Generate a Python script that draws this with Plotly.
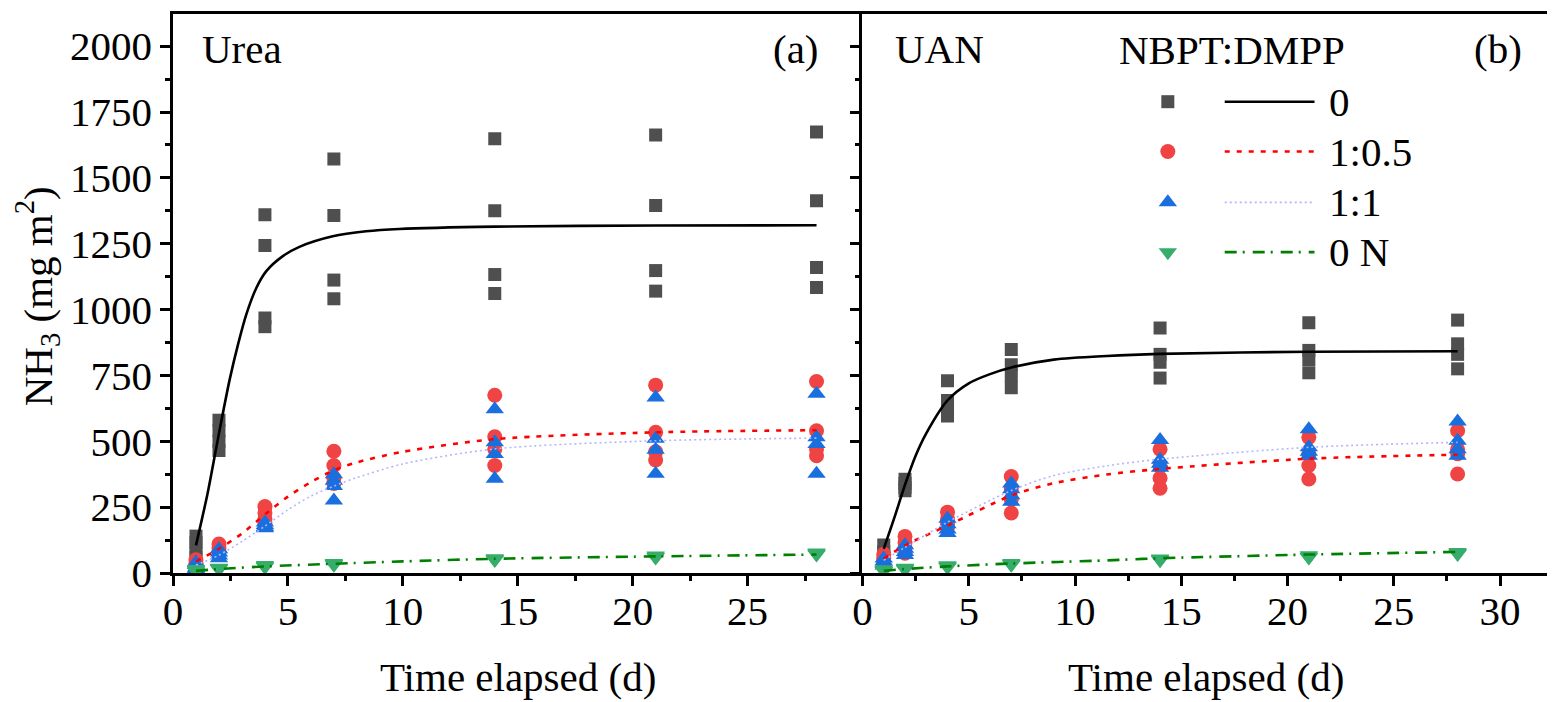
import plotly.graph_objects as go

FONT = "Liberation Serif"
FS = 41

days = [1, 2, 4, 7, 14, 21, 28]

# ---- Panel (a) Urea: replicate measurements (mg m-2) ----
urea_0 = [[140, 115, 90, 60], [580, 540, 500, 465], [1360, 1243, 968, 935],
          [1572, 1357, 1112, 1041], [1648, 1375, 1133, 1061],
          [1663, 1395, 1148, 1070], [1674, 1413, 1160, 1084]]
urea_05 = [[50, 38, 28, 20], [110, 95, 82, 72], [252, 228, 205, 188],
           [462, 408, 360, 340], [675, 517, 470, 408],
           [713, 534, 460, 429], [727, 540, 470, 445]]
urea_11 = [[40, 30, 20, 15], [90, 78, 66, 56], [192, 182, 175, 170],
           [375, 350, 330, 275], [622, 496, 452, 358],
           [666, 510, 468, 377], [680, 515, 490, 377]]
urea_0N = [[15, 12, 10, 8], [20, 18, 16, 14], [30, 27, 25, 23],
           [38, 35, 33, 31], [56, 53, 51, 49], [66, 63, 61, 59],
           [78, 74, 72, 70]]

# ---- Panel (b) UAN ----
uan_0 = [[106, 80, 60, 45], [356, 340, 325, 312], [730, 655, 625, 596],
         [848, 791, 750, 703], [930, 830, 800, 740],
         [950, 845, 810, 760], [960, 870, 830, 775]]
uan_05 = [[71, 55, 45, 35], [139, 115, 95, 75], [231, 205, 190, 174],
          [366, 320, 280, 228], [470, 405, 360, 322],
          [515, 450, 408, 357], [540, 470, 453, 376]]
uan_11 = [[55, 45, 35, 28], [105, 92, 80, 68], [206, 185, 165, 152],
          [340, 318, 295, 270], [505, 430, 415, 400],
          [546, 477, 460, 445], [575, 502, 470, 445]]
uan_0N = [[14, 11, 9, 7], [20, 17, 15, 13], [29, 26, 24, 22],
          [38, 35, 33, 31], [55, 52, 50, 48], [67, 63, 61, 59],
          [80, 76, 74, 72]]

# ---- fitted curves ----
fit_a0_d = [1, 1.5, 1.75, 2, 2.47, 2.83, 3.19, 3.63, 4.06, 4.78, 5.5, 6.95, 8.4, 9.84, 14, 21, 28]
fit_a0_v = [105, 300, 414, 530, 736, 868, 982, 1083, 1146, 1203, 1238, 1278, 1297, 1306, 1315, 1319, 1320]
fit_a_d = [1, 2, 3, 4, 5, 6, 7, 8, 10, 14, 21, 28]
fit_a05_v = [44, 92, 150, 222, 290, 345, 390, 420, 460, 508, 534, 542]
fit_a11_v = [30, 68, 120, 178, 240, 292, 330, 362, 414, 471, 502, 512]
fit_aN_d = [1, 2, 4, 7, 10, 14, 21, 28]
fit_aN_v = [8, 15, 25, 35, 44, 54, 63, 70]

fit_b0_d = [1, 1.5, 2, 2.5, 3, 4, 5, 6, 7, 9, 11.5, 14, 21, 28]
fit_b0_v = [92, 210, 335, 445, 530, 655, 720, 755, 780, 810, 824, 832, 840, 842]
fit_b_d = [1, 2, 4, 7, 9, 11.5, 14, 21, 28]
fit_b05_v = [54, 105, 180, 294, 341, 374, 395, 434, 449]
fit_b11_v = [48, 97, 193, 313, 370, 407, 432, 477, 496]
fit_bN_d = [1, 2, 4, 7, 11.5, 14, 21, 28]
fit_bN_v = [8, 15, 25, 36, 48, 56, 70, 80]

legend_labels = ["0", "1:0.5", "1:1", "0 N"]

# styles
C_SQ, C_CI, C_TU, C_TD = "#4f4f4f", "#f04444", "#1a6fdf", "#37ad6b"
mk = [dict(symbol="square", size=13, color=C_SQ),
      dict(symbol="circle", size=15, color=C_CI),
      dict(symbol="triangle-up", size=16, color=C_TU),
      dict(symbol="triangle-down", size=16, color=C_TD)]
ln = [dict(color="black", width=2.6),
      dict(color="#ff0000", width=2.6, dash="5px,7px"),
      dict(color="#b4b4ff", width=1.6, dash="2px,3px"),
      dict(color="#008000", width=2.6, dash="12px,6px,2px,8px")]


def flat(groups):
    xs, ys = [], []
    for d, g in zip(days, groups):
        for v in g:
            xs.append(d)
            ys.append(v)
    return xs, ys


fig = go.Figure()

panels = [
    ("x", "y", [urea_0, urea_05, urea_11, urea_0N],
     [(fit_a0_d, fit_a0_v), (fit_a_d, fit_a05_v), (fit_a_d, fit_a11_v), (fit_aN_d, fit_aN_v)]),
    ("x2", "y2", [uan_0, uan_05, uan_11, uan_0N],
     [(fit_b0_d, fit_b0_v), (fit_b_d, fit_b05_v), (fit_b_d, fit_b11_v), (fit_bN_d, fit_bN_v)]),
]
for xa, ya, groups, fits in panels:
    for i, g in enumerate(groups):
        xs, ys = flat(g)
        fig.add_trace(go.Scatter(x=xs, y=ys, mode="markers", marker=mk[i],
                                 xaxis=xa, yaxis=ya, showlegend=False))
    for i, (fd, fv) in enumerate(fits):
        fig.add_trace(go.Scatter(x=fd, y=fv, mode="lines",
                                 line=dict(shape="spline", smoothing=0.8, **ln[i]),
                                 xaxis=xa, yaxis=ya, showlegend=False))

# ---- page geometry (the page body has an 8px margin) ----
OFF = 8
L = 173; R = 1552; T = 12; B = 573          # plot area in page pixels
W = R - L; H = B - T
def px(x): return (x - L) / W
def py(y): return (B - y) / H

# ---- hand-made legend on an overlay axis (0..1) ----
rows_y = [100, 150, 201, 251]
for i, lab in enumerate(legend_labels):
    fig.add_trace(go.Scatter(x=[px(1170)], y=[py(rows_y[i])], mode="markers",
                             marker=mk[i], xaxis="x3", yaxis="y3",
                             showlegend=False, cliponaxis=False))
    fig.add_trace(go.Scatter(x=[px(1227), px(1317)], y=[py(rows_y[i])] * 2, mode="lines",
                             line=ln[i], xaxis="x3", yaxis="y3", showlegend=False, cliponaxis=False))
    fig.add_annotation(x=px(1330), y=py(rows_y[i]), xref="paper", yref="paper",
                       text=lab, showarrow=False, xanchor="left", yanchor="middle",
                       font=dict(family=FONT, size=FS, color="black"))

ann = [("Urea", 200, 47, "left"), ("(a)", 822, 47, "right"), ("UAN", 895, 47, "left"),
       ("(b)", 1527, 47, "right"), ("NBPT:DMPP", 1234, 48, "center")]
for t, x, y, anc in ann:
    fig.add_annotation(x=px(x), y=py(y), xref="paper", yref="paper", text=t, showarrow=False,
                       xanchor=anc, yanchor="middle", font=dict(family=FONT, size=FS, color="black"))

# axis titles
for xc in [(173 + 864) / 2, (864 + 1552) / 2]:
    fig.add_annotation(x=px(xc), y=py(677), xref="paper", yref="paper", text="Time elapsed (d)",
                       showarrow=False, xanchor="center", yanchor="middle",
                       font=dict(family=FONT, size=FS, color="black"))
fig.add_annotation(x=px(37), y=py(295), xref="paper", yref="paper",
                   text="NH<sub>3</sub> (mg m<sup>2</sup>)", textangle=-90, showarrow=False,
                   xanchor="center", yanchor="middle", font=dict(family=FONT, size=FS, color="black"))

split = (864 - L) / W
axis_common = dict(showgrid=False, zeroline=False, showline=True, linecolor="black", linewidth=2.5,
                   ticks="outside", ticklen=10, tickwidth=2.5, tickcolor="black",
                   tickfont=dict(family=FONT, size=FS, color="black"))
yt = list(range(0, 2001, 250))
ymin = [125 + 250 * k for k in range(9)]
xminor = dict(tickvals=[2.5 + 5 * k for k in range(6)], ticks="outside", ticklen=5,
              tickwidth=2.5, tickcolor="black")
yminor = dict(tickvals=ymin, ticks="outside", ticklen=5, tickwidth=2.5, tickcolor="black")

fig.update_layout(
    width=1555 - OFF, height=702 - OFF, paper_bgcolor="white", plot_bgcolor="rgba(0,0,0,0)",
    margin=dict(l=L - OFF, r=1555 - R, t=T - OFF, b=702 - B, pad=0),
    showlegend=False,
    xaxis=dict(axis_common, domain=[0, split], range=[0, 30], tickmode="array",
               tickvals=[0, 5, 10, 15, 20, 25], mirror=True, anchor="y",
               ticklabelstandoff=-10, minor=xminor),
    yaxis=dict(axis_common, domain=[0, 1], range=[0, 2122], tickmode="array", tickvals=yt,
               anchor="x", mirror=False, minor=yminor),
    xaxis2=dict(axis_common, domain=[split, 1], range=[0, 32.3], tickmode="array",
                tickvals=[0, 5, 10, 15, 20, 25, 30], mirror=True, anchor="y2",
                ticklabelstandoff=-10, minor=xminor),
    yaxis2=dict(axis_common, domain=[0, 1], range=[0, 2122], tickmode="array", tickvals=yt,
                anchor="x2", mirror=True, showticklabels=False, minor=yminor),
    xaxis3=dict(domain=[0, 1], range=[0, 1], visible=False, anchor="y3"),
    yaxis3=dict(domain=[0, 1], range=[0, 1], visible=False, anchor="x3"),
)

fig.write_html("out.html")
